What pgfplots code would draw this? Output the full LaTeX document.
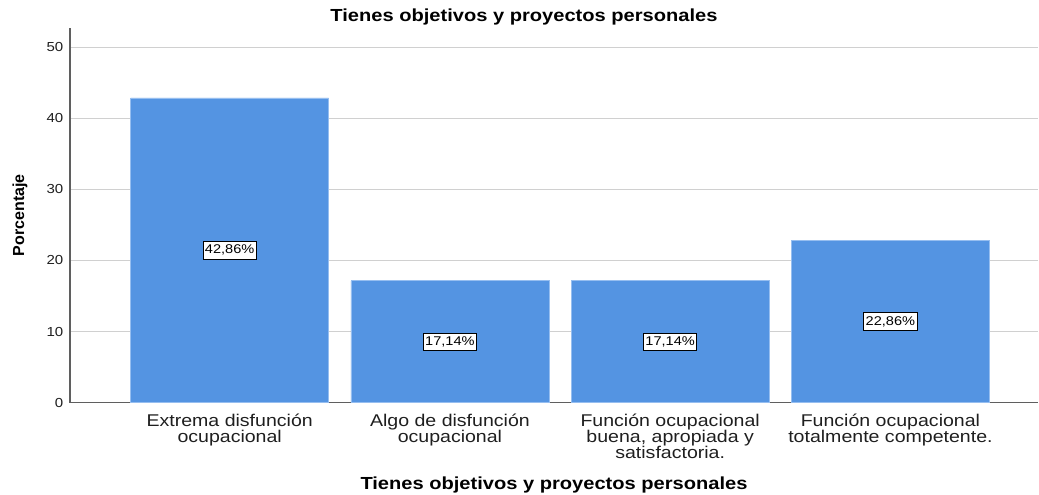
\documentclass[border=0pt]{standalone}
\usepackage{fontspec}
\setmainfont{Liberation Sans}[FakeStretch=1.15]
\newfontfamily\plainfont{Liberation Sans}
\usepackage{pgfplots}
\pgfplotsset{compat=1.18}
\definecolor{barblue}{RGB}{84,148,226}
\definecolor{baredge}{RGB}{150,190,240}
\definecolor{gridgray}{RGB}{208,208,208}
\definecolor{axisgray}{RGB}{95,95,95}

\begin{document}
\begin{tikzpicture}
\begin{axis}[
  name=ax,
  scale only axis,
  width=726pt, height=281pt,
  ymin=0, ymax=52.7,
  xmin=-0.725, xmax=3.67,
  ybar, bar width=148.5pt, bar shift=0pt,
  axis x line*=bottom, axis y line*=left,
  axis line style={axisgray, line width=1pt},
  major tick length=0pt,
  ytick={0,10,20,30,40,50},
  ymajorgrids, grid style={gridgray, line width=0.8pt},
  xtick={0,1,2,3},
  xticklabels={{Extrema disfunción\\ocupacional},
               {Algo de disfunción\\ocupacional},
               {Función ocupacional\\buena, apropiada y\\satisfactoria.},
               {Función ocupacional\\totalmente competente.}},
  xticklabel style={align=center, font=\fontsize{12.75}{12}\selectfont, text=black!88, yshift=-5pt},
  yticklabel style={font=\fontsize{9.8}{10}\selectfont, text=black!88, xshift=-1.5pt},
  /pgf/number format/assume math mode=true,
  ylabel={Porcentaje},
  ylabel style={font=\plainfont\bfseries\fontsize{12}{13}\selectfont,
                at={(axis description cs:-0.0517,0.5)}, anchor=center},
  xlabel={Tienes objetivos y proyectos personales},
  xlabel style={font=\bfseries\fontsize{13.1}{14}\selectfont,
                at={(axis description cs:0.5,-0.2187)}, anchor=center},
  title={Tienes objetivos y proyectos personales},
  title style={font=\bfseries\fontsize{13.1}{14}\selectfont,
               at={(axis description cs:0.469,1.008)}, anchor=center},
  point meta=y,
  nodes near coords={\pgfmathprintnumber[fixed,fixed zerofill,precision=2,use comma]{\pgfplotspointmeta}\%},
  visualization depends on=y \as \rawy,
  every node near coord/.append style={anchor=center,
      shift={(axis direction cs:0,-\rawy/2)},
      fill=white, draw=black, line width=0.6pt, inner xsep=1.5pt, inner ysep=2.6pt,
      font=\fontsize{9.5}{10}\selectfont, text=black},
]
\addplot[fill=barblue, draw=baredge, line width=0.5pt]
  coordinates {(0,42.86) (1,17.14) (2,17.14) (3,22.86)};
\end{axis}
\pgfresetboundingbox
\path[use as bounding box] ([xshift=-52.5pt,yshift=-69pt]ax.south west)
  rectangle ([xshift=0.75pt,yshift=21pt]ax.north east);
\end{tikzpicture}
\end{document}
